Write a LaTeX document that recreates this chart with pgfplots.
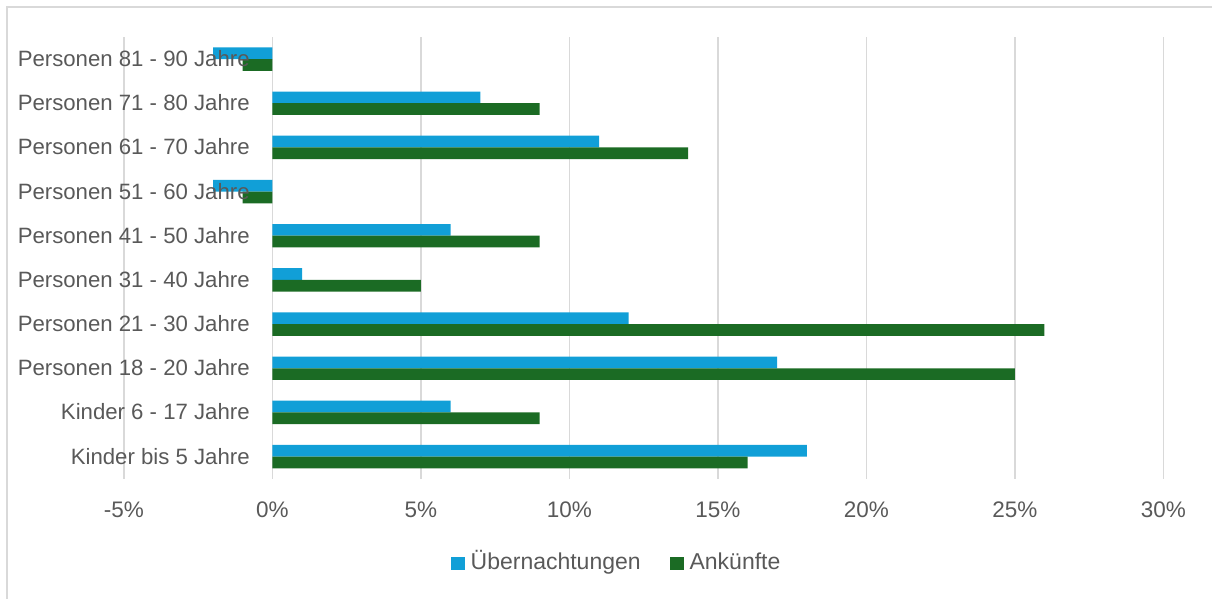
\documentclass[border=0pt]{standalone}
\usepackage{pgfplots}
\pgfplotsset{compat=1.18}
\usepackage{fontspec}
\setmainfont{Liberation Sans}

\definecolor{uebblue}{HTML}{119FD7}
\definecolor{ankgreen}{HTML}{1B6B24}
\definecolor{txtgray}{HTML}{595959}
\definecolor{gridgray}{HTML}{D9D9D9}

% bars above the grid, category labels above the bars
\pgfplotsset{
  layers/barsbelow/.define layer set={axis background,axis grid,axis ticks,axis lines,pre main,main,axis tick labels,axis descriptions,axis foreground}{
    grid style={/pgfplots/on layer=axis grid},
    tick style={/pgfplots/on layer=axis ticks},
    axis line style={/pgfplots/on layer=axis lines},
    label style={/pgfplots/on layer=axis descriptions},
    legend style={/pgfplots/on layer=axis descriptions},
    title style={/pgfplots/on layer=axis descriptions},
    ticklabel style={/pgfplots/on layer=axis tick labels},
  },
}

% Category 0 = Kinder bis 5 Jahre (bottom) ... 9 = Personen 81 - 90 Jahre (top)
\pgfplotstableread{
idx uebernachtungen ankuenfte
0   18  16
1   6   9
2   17  25
3   12  26
4   1   5
5   6   9
6   -2  -1
7   11  14
8   7   9
9   -2  -1
}\agedata

\begin{document}
\begin{tikzpicture}
\path (0,0) rectangle (1213bp,599bp);
% chart frame (left and top edge)
\draw[gridgray, line width=1.5bp] (7bp,0) -- (7bp,592bp) -- (1213bp,592bp);
\begin{axis}[
  set layers=barsbelow,
  at={(124bp,120bp)}, anchor=south west,
  scale only axis,
  width=1040bp, height=442bp,
  xbar,
  bar width=0.265,
  xmin=-5, xmax=30,
  ymin=-0.5, ymax=9.5,
  xtick={-5,0,5,10,15,20,25,30},
  xticklabels={-5\%,0\%,5\%,10\%,15\%,20\%,25\%,30\%},
  ytick={0,...,9},
  yticklabels={Kinder bis 5 Jahre,Kinder 6 - 17 Jahre,Personen 18 - 20 Jahre,Personen 21 - 30 Jahre,Personen 31 - 40 Jahre,Personen 41 - 50 Jahre,Personen 51 - 60 Jahre,Personen 61 - 70 Jahre,Personen 71 - 80 Jahre,Personen 81 - 90 Jahre},
  xmajorgrids,
  grid style={gridgray, line width=1.5bp},
  axis line style={draw=none},
  tick style={draw=none},
  major tick length=0pt,
  ticklabel style={font=\fontsize{22.5bp}{27bp}\selectfont, text=txtgray, inner sep=0pt},
  xticklabel style={anchor=base, yshift=-38.5bp},
  yticklabel style={font=\fontsize{22.2bp}{27bp}\selectfont, anchor=base east, xshift=126bp, yshift=-7.5bp},
  legend style={
    at={(0.473,-0.192)}, anchor=center,
    draw=none, fill=none,
    font=\fontsize{23bp}{27bp}\selectfont, text=txtgray,
    nodes={inner sep=0pt, text height=16.5bp, text depth=5bp},
    legend columns=2,
    /tikz/every odd column/.append style={column sep=6bp},
    /tikz/every even column/.append style={column sep=29bp},
  },
  legend image code/.code={\fill[#1] (0bp,-6.5bp) rectangle (14bp,7bp);},
  legend cell align=left,
]
\addplot[fill=uebblue, draw=none, bar shift=0.1325] table[x=uebernachtungen, y=idx] {\agedata};
\addlegendentry{Übernachtungen}
\addplot[fill=ankgreen, draw=none, bar shift=-0.1325] table[x=ankuenfte, y=idx] {\agedata};
\addlegendentry{Ankünfte}
\end{axis}
\end{tikzpicture}
\end{document}
